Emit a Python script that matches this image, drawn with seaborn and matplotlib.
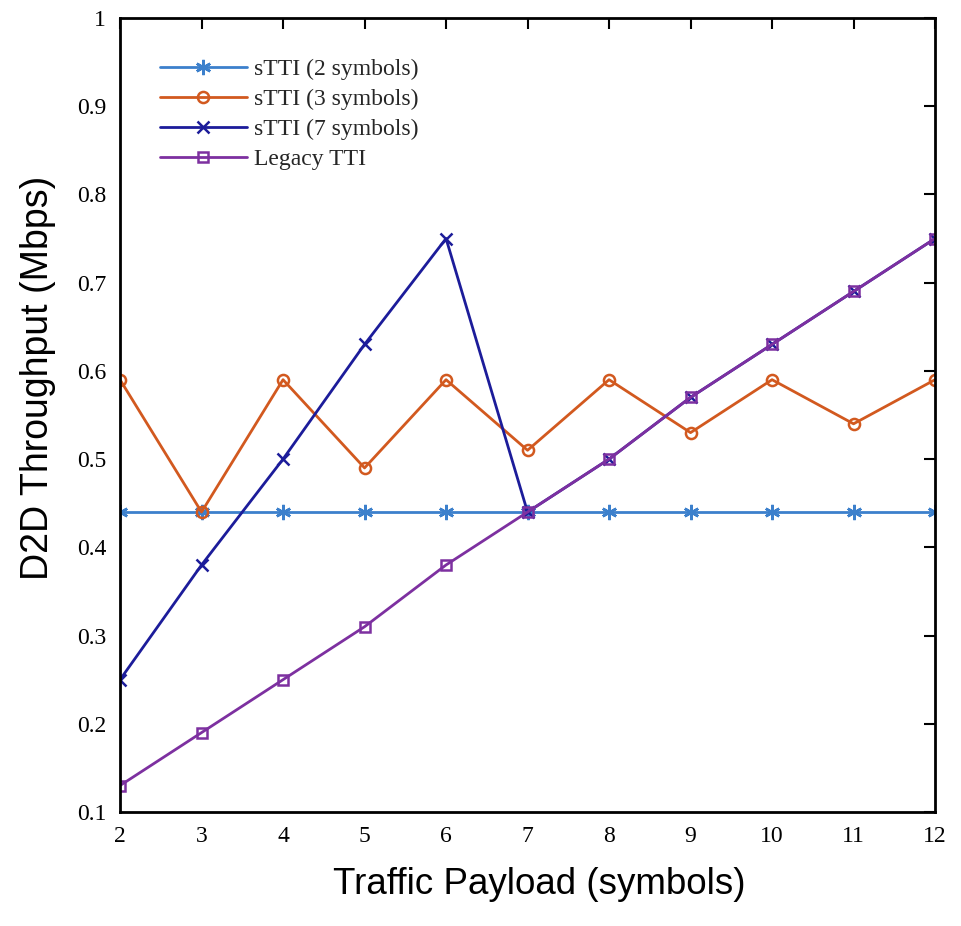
import numpy as np
import pandas as pd
import matplotlib
matplotlib.use('Agg')
import matplotlib.pyplot as plt
import seaborn as sns

payload = [2, 3, 4, 5, 6, 7, 8, 9, 10, 11, 12]
stti_2 = [0.44, 0.44, 0.44, 0.44, 0.44, 0.44, 0.44, 0.44, 0.44, 0.44, 0.44]
stti_3 = [0.59, 0.44, 0.59, 0.49, 0.59, 0.51, 0.59, 0.53, 0.59, 0.54, 0.59]
stti_7 = [0.25, 0.38, 0.50, 0.63, 0.75, 0.44, 0.50, 0.57, 0.63, 0.69, 0.75]
legacy = [0.13, 0.19, 0.25, 0.31, 0.38, 0.44, 0.50, 0.57, 0.63, 0.69, 0.75]

series = ['sTTI (2 symbols)', 'sTTI (3 symbols)', 'sTTI (7 symbols)', 'Legacy TTI']
colors = ['#3c80cc', '#d2591f', '#1c1c9a', '#7d30a0']
markers = [(6, 2, 0), 'o', 'x', 's']
msizes = [11, 8, 9, 6.5]

df = pd.DataFrame({'payload': payload, series[0]: stti_2, series[1]: stti_3,
                   series[2]: stti_7, series[3]: legacy})
long = df.melt(id_vars='payload', var_name='series', value_name='tp')

sns.set_style('white')
plt.rcParams['font.family'] = ['Liberation Serif', 'DejaVu Serif']

fig = plt.figure(figsize=(9.61, 9.26), dpi=100)
ax = fig.add_axes([0.1249, 0.1231, 0.8481, 0.8575])

for name, c, m, ms in zip(series, colors, markers, msizes):
    sub = long[long['series'] == name]
    sns.lineplot(data=sub, x='payload', y='tp', ax=ax, color=c, marker=m,
                 markersize=ms, markeredgewidth=1.8, markerfacecolor='none',
                 markeredgecolor=c, linewidth=2, label=name)

ax.set_xlim(2, 12)
ax.set_ylim(0.1, 1)
ax.set_xticks(payload)
ax.set_yticks(np.round(np.arange(0.1, 1.01, 0.1), 1))
ax.set_yticklabels(['0.1', '0.2', '0.3', '0.4', '0.5', '0.6', '0.7', '0.8', '0.9', '1'])
ax.tick_params(direction='in', length=8, width=1.5, labelsize=17, top=True, right=True,
               pad=10, colors='black')
for s in ax.spines.values():
    s.set_linewidth(2)
    s.set_color('black')

ax.set_xlabel('Traffic Payload (symbols)', fontsize=26.5, family='Liberation Sans', color='black')
ax.set_ylabel('D2D Throughput (Mbps)', fontsize=27, family='Liberation Sans', color='black')
ax.xaxis.set_label_coords(0.514, -0.069)
ax.yaxis.set_label_coords(-0.079, 0.547)

leg = ax.legend(loc='upper left', bbox_to_anchor=(0.0485, 0.949), frameon=False, fontsize=17,
                handlelength=3.7, handletextpad=0.3, labelspacing=0.36,
                borderaxespad=0, borderpad=0)

fig.savefig('out.png', dpi=100)
